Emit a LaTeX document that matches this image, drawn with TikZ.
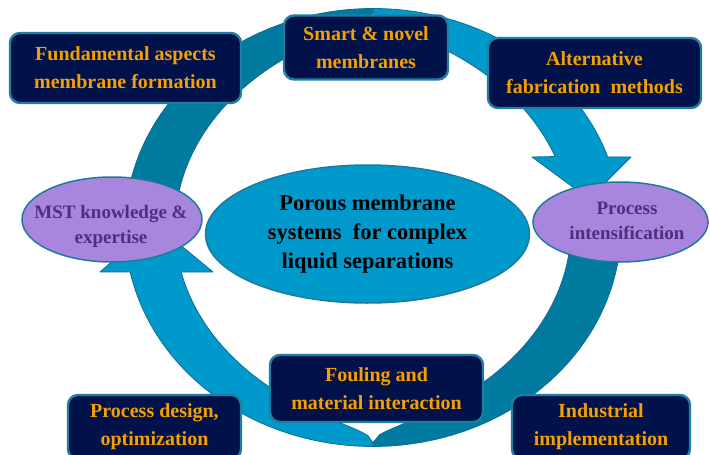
\documentclass[tikz,border=0pt]{standalone}
\usepackage{fontspec}
\setmainfont{Liberation Serif}
\usetikzlibrary{shapes.geometric}
\definecolor{lightband}{HTML}{0099CC}
\definecolor{darkband}{HTML}{017AA0}
\definecolor{bandedge}{HTML}{0B6E92}
\definecolor{navy}{HTML}{01124A}
\definecolor{boxedge}{HTML}{1F7EA3}
\definecolor{orangetxt}{HTML}{F59F00}
\definecolor{purplefill}{HTML}{A986DD}
\definecolor{purpletxt}{HTML}{4E2F7F}
\definecolor{ovaledge}{HTML}{1C7A9C}
\begin{document}
\begin{tikzpicture}[x=1pt,y=-1pt,
  band/.style={draw=bandedge, line width=0.8pt, line join=round},
  box/.style={draw=boxedge, line width=2.4pt, fill=navy, rounded corners=10pt,
    text=orangetxt, font=\bfseries\fontsize{20}{28}\selectfont, align=center, inner sep=0pt},
  oval/.style={ellipse, draw=ovaledge, line width=1.5pt, fill=purplefill, inner sep=0pt},
  ovaltext/.style={text=purpletxt, font=\bfseries\fontsize{19}{25}\selectfont, align=center, inner sep=0pt},
  hub/.style={ellipse, draw=ovaledge, line width=1.5pt, fill=lightband, inner sep=0pt},
  hubtext/.style={text=black, font=\bfseries\fontsize{22.5}{29}\selectfont, align=center, inner sep=0pt}
]
\fill[white] (0,0) rectangle (710,455);
\useasboundingbox (0,0) rectangle (710,455);
\def\cx{373}\def\cy{227.5}\def\ra{248}\def\rb{219}
% dark upper-left band
\path[fill=darkband, band]
  plot[domain=185:270, samples=60] ({\cx+\ra*cos(\x)},{\cy+\rb*sin(\x)})
  -- plot[domain=270:185, samples=60] ({\cx+(\ra-4-46*sqrt(abs(cos(\x))))*cos(\x)},{\cy+(\rb-4-46*sqrt(abs(cos(\x))))*sin(\x)})
  -- cycle;
% dark lower-right band
\path[fill=darkband, band]
  plot[domain=-3:90, samples=60] ({\cx+\ra*cos(\x)},{\cy+\rb*sin(\x)})
  -- plot[domain=90:-3, samples=60] ({\cx+(\ra-4-46*sqrt(abs(cos(\x))))*cos(\x)},{\cy+(\rb-4-46*sqrt(abs(cos(\x))))*sin(\x)})
  -- cycle;
% light upper-right arrow
\path[fill=lightband, band]
  plot[domain=270:341.2, samples=60] ({\cx+\ra*cos(\x)},{\cy+\rb*sin(\x)})
  -- (631,157) -- (589,199) -- (532,157)
  -- plot[domain=335.5:270, samples=60] ({\cx+(\ra-4-46*sqrt(abs(cos(\x))))*cos(\x)},{\cy+(\rb-4-46*sqrt(abs(cos(\x))))*sin(\x)})
  -- cycle;
% light lower-left arrow
\path[fill=lightband, band]
  plot[domain=90:168.3, samples=60] ({\cx+\ra*cos(\x)},{\cy+\rb*sin(\x)})
  -- (100,272) -- (155,224) -- (213,272)
  -- plot[domain=164.8:90, samples=60] ({\cx+(\ra-4-46*sqrt(abs(cos(\x))))*cos(\x)},{\cy+(\rb-4-46*sqrt(abs(cos(\x))))*sin(\x)})
  -- cycle;

% central ellipse
\node[hub, minimum width=324pt, minimum height=138pt] (hubshape) at (367.5,234) {};
\node[hubtext] (hub) at (367.5,234) {Porous membrane\\systems\ \ for complex\\liquid separations};

% purple ellipses
\node[oval, minimum width=180pt, minimum height=85pt] (mstshape) at (112,219.5) {};
\node[ovaltext] (mst) at (111,226) {MST knowledge \&\\expertise};
\node[oval, minimum width=175pt, minimum height=80pt] (pishape) at (620.5,222) {};
\node[ovaltext] (pi) at (627,221) {Process\\intensification};

% boxes
\node[box, minimum width=231pt, minimum height=70pt] (fund) at (125.5,68) {Fundamental aspects\\membrane formation};
\node[box, minimum width=164pt, minimum height=64pt] (smart) at (366,47.5) {Smart \& novel\\membranes};
\node[box, minimum width=213pt, minimum height=70pt] (alt) at (594.5,73) {Alternative\\fabrication\ \ methods};
\node[box, minimum width=213pt, minimum height=67pt] (foul) at (376.5,388.5) {Fouling and\\material interaction};
\node[box, minimum width=173pt, minimum height=64pt] (design) at (154.5,427) {Process design,\\optimization};
\node[box, minimum width=178pt, minimum height=64pt] (indus) at (601,427) {Industrial\\implementation};
\end{tikzpicture}
\end{document}
